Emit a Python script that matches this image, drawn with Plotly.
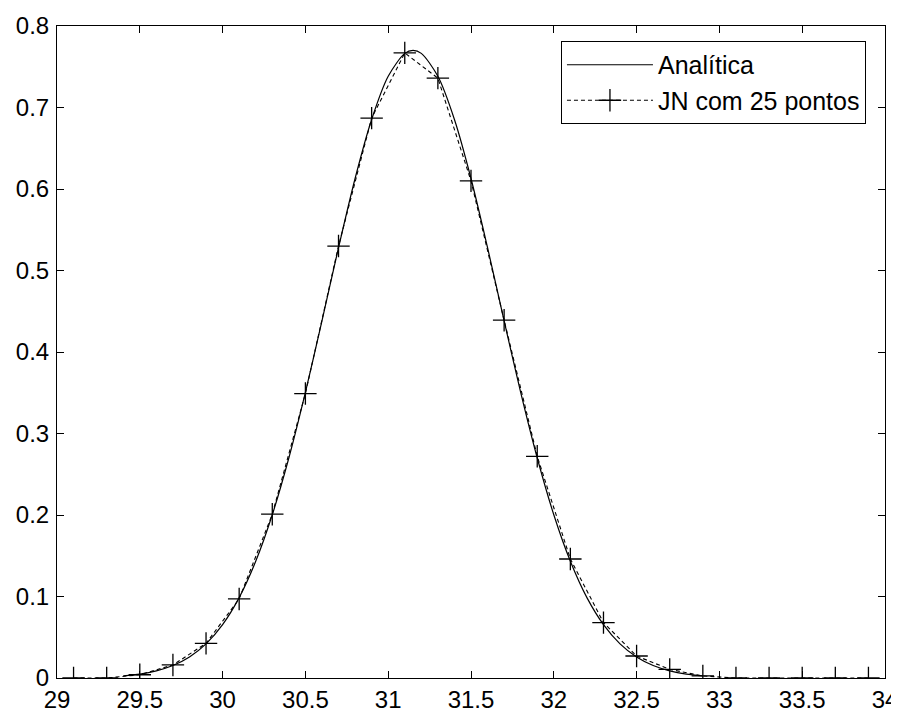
import plotly.graph_objects as go

# Analytic curve values
x_analitica = [29.4, 29.5, 29.6, 29.7, 29.8, 29.9, 30.0, 30.1, 30.2, 30.3,
               30.4, 30.5, 30.6, 30.7, 30.8, 30.9, 31.0, 31.1, 31.15, 31.2,
               31.3, 31.4, 31.5, 31.6, 31.7, 31.8, 31.9, 32.0, 32.1, 32.2,
               32.3, 32.4, 32.5, 32.6, 32.7, 32.8, 32.9]
y_analitica = [0.0026, 0.0048, 0.0088, 0.0153, 0.0258, 0.0419, 0.0655, 0.0986, 0.1432, 0.2003,
               0.2699, 0.3504, 0.4382, 0.528, 0.6129, 0.6853, 0.7383, 0.7664, 0.770, 0.7664,
               0.7383, 0.6853, 0.6129, 0.528, 0.4382, 0.3504, 0.2699, 0.2003, 0.1432, 0.0986,
               0.0655, 0.0419, 0.0258, 0.0153, 0.0088, 0.0048, 0.0026]

# JN with 25 points
x_jn = [29.1, 29.3, 29.5, 29.7, 29.9, 30.1, 30.3, 30.5, 30.7, 30.9,
        31.1, 31.3, 31.5, 31.7, 31.9, 32.1, 32.3, 32.5, 32.7, 32.9,
        33.1, 33.3, 33.5, 33.7, 33.9]
y_jn = [0.0, 0.0, 0.004, 0.016, 0.0425, 0.097, 0.201, 0.349, 0.530, 0.687,
        0.767, 0.736, 0.610, 0.439, 0.272, 0.146, 0.068, 0.027, 0.0106, 0.0025,
        0.0, 0.0, 0.0, 0.0, 0.0]

legend_names = ["Analítica", "JN com 25 pontos"]

FONT = "Liberation Sans, Arial, sans-serif"

fig = go.Figure()
fig.add_trace(go.Scatter(
    x=x_analitica, y=y_analitica, mode="lines", name=legend_names[0],
    legendgroup="a",
    line=dict(color="black", width=1.2, shape="spline", smoothing=0.8),
))
fig.add_trace(go.Scatter(
    x=x_jn, y=y_jn, mode="lines+markers", name=legend_names[1],
    legendgroup="b",
    line=dict(color="black", width=1.1, dash="4px,3px"),
    marker=dict(symbol="cross-thin", size=16, line=dict(color="black", width=1.3)),
))

axis_common = dict(
    showgrid=False, zeroline=False, showline=True, linecolor="black", linewidth=1,
    mirror="ticks", ticks="inside", ticklen=7, tickcolor="black", tickwidth=1,
    automargin=False,
    tickfont=dict(family=FONT, size=24, color="black"),
)

# the page body adds an 8px offset, so the figure is 8px smaller
fig.update_layout(
    width=891, height=705,
    margin=dict(l=49, r=14, t=18, b=35),
    paper_bgcolor="white", plot_bgcolor="white",
    showlegend=True,
    legend=dict(
        x=0.977, y=0.977, xanchor="right", yanchor="top",
        bgcolor="white", bordercolor="black", borderwidth=1,
        font=dict(family=FONT, size=25, color="black"),
        itemwidth=86, tracegroupgap=0,
    ),
)
fig.update_xaxes(range=[29, 34], dtick=0.5, tick0=29, **axis_common)
fig.update_yaxes(range=[0, 0.8], dtick=0.1, tick0=0, ticklabelstandoff=2, **axis_common)

fig.write_html("out.html")
